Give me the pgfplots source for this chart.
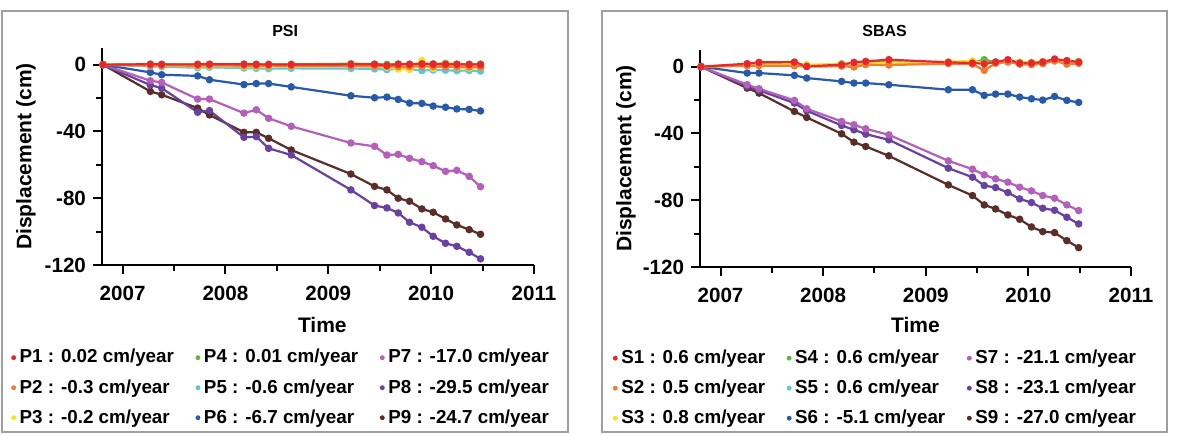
\documentclass[border=0pt]{standalone}
\usepackage{fontspec}
\setmainfont{Liberation Sans}
\usepackage{pgfplots}
\usepackage{pgfplotstable}
\pgfplotsset{compat=1.18}

\definecolor{c1}{RGB}{232,38,43}
\definecolor{c2}{RGB}{240,125,50}
\definecolor{c3}{RGB}{245,228,30}
\definecolor{c4}{RGB}{96,180,70}
\definecolor{c5}{RGB}{90,200,215}
\definecolor{c6}{RGB}{40,90,170}
\definecolor{c7}{RGB}{180,95,185}
\definecolor{c8}{RGB}{105,65,160}
\definecolor{c9}{RGB}{90,45,40}

\pgfplotstableread{
t        p1   p2   p3   p4   p5   p6    p7    p8     p9
2006.81  0.0  0.0  0.0  0.0  0.0  0.0   0.0   0.0    0.0
2007.27  0.3 -0.5 -0.3  0.2 -1.0 -4.6  -9.6  -12.2  -16.0
2007.38  0.2 -0.5 -0.5  0.1 -1.2 -6.0  -10.6 -14.0  -18.0
2007.73  0.2 -0.6 -1.0  0.2 -1.8 -6.7  -20.6 -28.5  -26.0
2007.845 0.3 -0.5 -0.8  0.1 -1.6 -9.0  -20.6 -27.5  -30.1
2008.18  0.3 -0.6 -1.0  0.3 -2.0 -11.9 -29.0 -43.5  -40.5
2008.30  0.2 -0.7 -1.2  0.2 -2.2 -11.3 -27.0 -43.1  -40.5
2008.42  0.2 -0.7 -1.0  0.1 -2.4 -11.3 -32.1 -50.1  -44.1
2008.64  0.1 -0.8 -1.0  0.2 -2.2 -13.3 -36.9 -54.1  -51.1
2009.22  0.2 -0.8 -0.8  0.6 -2.3 -18.6 -46.9 -75.0  -65.5
2009.45  0.3 -1.0 -1.0  0.3 -2.5 -19.8 -48.9 -84.4  -72.9
2009.57 -0.5 -1.0 -1.5  0.2 -3.0 -19.4 -54.1 -85.8  -75.0
2009.68  0.3 -1.2 -2.5  0.4 -2.4 -20.8 -53.7 -88.8  -80.0
2009.79  0.2 -1.2 -2.8  0.3 -2.6 -23.0 -56.1 -94.4  -81.8
2009.91  0.5 -1.1  2.5  0.6 -3.5 -23.2 -58.1 -97.4  -86.4
2010.02  0.3 -1.2 -2.2  0.5 -3.2 -24.8 -60.5 -102.8 -88.4
2010.14  0.3 -1.3  0.5  0.8 -3.3 -25.5 -63.9 -107.0 -92.4
2010.25  0.2 -1.3 -1.5  0.4 -3.6 -26.5 -63.3 -108.8 -96.0
2010.37  0.1 -1.4 -2.0  0.3 -3.5 -26.8 -66.9 -112.4 -98.8
2010.48  0.0 -1.5 -1.5  0.4 -3.8 -27.7 -73.1 -116.3 -101.6
}\psitab

\pgfplotstableread{
t        s1   s2   s3   s4   s5   s6    s7    s8    s9
2006.81  0.0  0.0  0.0  0.0  0.0  0.0   0.0   0.0   0.0
2007.26  1.8  0.5  1.0  1.2  0.8 -3.8  -10.8 -11.8 -12.8
2007.375 2.6  0.6  1.2  1.5  1.0 -3.8  -13.2 -14.2 -15.8
2007.72  2.8  0.5  1.5  2.0  1.5 -5.2  -20.2 -21.8 -26.8
2007.84  0.2  0.0  1.2  0.5  0.3 -6.8  -25.2 -26.4 -30.4
2008.18  1.2  0.3  1.5  1.8  1.0 -8.8  -32.8 -35.2 -40.2
2008.30  2.6 -0.2  1.8  1.5  1.5 -9.8  -34.8 -37.8 -45.2
2008.415 3.2  1.2  2.0  2.5  2.0 -9.8  -37.2 -40.4 -47.8
2008.64  4.2  1.0  2.5  3.0  2.5 -10.8 -40.8 -43.8 -53.4
2009.22  2.6  1.8  3.0  2.5  2.5 -13.8 -56.4 -60.8 -70.8
2009.455 2.2  1.5  3.5  2.5  2.8 -13.8 -61.4 -66.2 -77.2
2009.57  1.8 -2.2  2.0  4.2  2.5 -17.2 -64.8 -71.2 -82.8
2009.68  2.8  2.0  2.5  2.8  2.5 -16.4 -67.2 -72.4 -85.2
2009.80  4.2  2.8  3.5  3.5  3.0 -16.4 -69.2 -75.4 -88.8
2009.915 2.2  1.5  2.8  2.0  1.8 -18.2 -72.2 -79.2 -91.4
2010.03  2.2  1.2  2.5  2.5  2.0 -19.2 -74.4 -81.4 -96.0
2010.14  2.8  1.8  3.0  3.0  2.5 -20.0 -77.2 -84.8 -98.8
2010.255 4.6  3.5  3.8  4.0  3.5 -17.8 -78.8 -86.0 -99.4
2010.375 3.6  1.5  3.2  3.5  2.8 -20.2 -82.8 -90.2 -104.2
2010.49  2.8  2.0  3.0  3.0  2.5 -21.4 -86.2 -94.2 -108.4
}\sbastab

\pgfplotsset{
  panel/.style={
    scale only axis,
    width=216pt, height=108.5pt,
    xmin=2006.8, xmax=2011, ymin=-120, ymax=10,
    axis x line*=bottom, axis y line*=left,
    axis line style={line width=1pt, -},
    xtick={2007,2008,2009,2010,2011},
    ytick={0,-40,-80,-120},
    minor x tick num=1, minor y tick num=1,
    tick align=outside,
    major tick length=4.5pt, minor tick length=3pt,
    every tick/.style={black, line width=1pt},
    /pgf/number format/assume math mode=true,
    /pgf/number format/1000 sep={},
    ticklabel style={font=\bfseries\fontsize{10.3}{12}\selectfont},
    xticklabel style={yshift=-2.5pt},
    xlabel={Time}, ylabel={Displacement (cm)},
    label style={font=\bfseries\fontsize{10.5}{12}\selectfont},
    clip=false,
    legend columns=3,
    legend cell align=left,
    legend style={draw=none, fill=none, anchor=north west,
      font=\bfseries\fontsize{9.4}{11}\selectfont, row sep=2.7pt,
      /tikz/every even column/.append style={column sep=9pt}},
  },
  ser/.style={line width=1.1pt, mark=*, mark size=1.3pt, forget plot},
  leg/.style={only marks, mark=*, mark size=1pt, #1, mark options={fill=#1, draw=#1}},
}

\begin{document}
\begin{tikzpicture}
\path (0,0) rectangle (593.5pt,-217pt);
\draw[gray!75, line width=0.6pt] (1pt,-5.5pt) rectangle (284pt,-216pt);
\draw[gray!75, line width=0.6pt] (301pt,-5.5pt) rectangle (583.5pt,-216pt);
\node[font=\bfseries\fontsize{8}{9}\selectfont, anchor=center] at (142.6pt,-15.3pt) {PSI};
\node[font=\bfseries\fontsize{8}{9}\selectfont, anchor=center] at (442.3pt,-15.3pt) {SBAS};

\begin{axis}[panel, at={(51pt,-132.5pt)}, anchor=south west,
  xlabel style={at={(axis description cs:0.51,-0.276)}, anchor=center},
  ylabel style={at={(axis description cs:-0.176,0.5)}, anchor=center},
  legend style={at={(axis description cs:-0.224,-0.35)}}]
\addplot[ser, c9] table[x=t, y=p9] {\psitab};
\addplot[ser, c8] table[x=t, y=p8] {\psitab};
\addplot[ser, c7] table[x=t, y=p7] {\psitab};
\addplot[ser, c6] table[x=t, y=p6] {\psitab};
\addplot[ser, c5] table[x=t, y=p5] {\psitab};
\addplot[ser, c4] table[x=t, y=p4] {\psitab};
\addplot[ser, c3] table[x=t, y=p3] {\psitab};
\addplot[ser, c2] table[x=t, y=p2] {\psitab};
\addplot[ser, c1] table[x=t, y=p1] {\psitab};
\addlegendimage{leg=c1}\addlegendentry{P1 : 0.02 cm/year}
\addlegendimage{leg=c4}\addlegendentry{P4 : 0.01 cm/year}
\addlegendimage{leg=c7}\addlegendentry{P7 : -17.0 cm/year}
\addlegendimage{leg=c2}\addlegendentry{P2 : -0.3 cm/year}
\addlegendimage{leg=c5}\addlegendentry{P5 : -0.6 cm/year}
\addlegendimage{leg=c8}\addlegendentry{P8 : -29.5 cm/year}
\addlegendimage{leg=c3}\addlegendentry{P3 : -0.2 cm/year}
\addlegendimage{leg=c6}\addlegendentry{P6 : -6.7 cm/year}
\addlegendimage{leg=c9}\addlegendentry{P9 : -24.7 cm/year}
\end{axis}

\begin{axis}[panel, at={(350pt,-133.5pt)}, anchor=south west, width=215.5pt,
  xlabel style={at={(axis description cs:0.5,-0.268)}, anchor=center},
  ylabel style={at={(axis description cs:-0.172,0.5)}, anchor=center},
  legend style={at={(axis description cs:-0.216,-0.343)}}]
\addplot[ser, c9] table[x=t, y=s9] {\sbastab};
\addplot[ser, c8] table[x=t, y=s8] {\sbastab};
\addplot[ser, c7] table[x=t, y=s7] {\sbastab};
\addplot[ser, c6] table[x=t, y=s6] {\sbastab};
\addplot[ser, c5] table[x=t, y=s5] {\sbastab};
\addplot[ser, c4] table[x=t, y=s4] {\sbastab};
\addplot[ser, c3] table[x=t, y=s3] {\sbastab};
\addplot[ser, c2] table[x=t, y=s2] {\sbastab};
\addplot[ser, c1] table[x=t, y=s1] {\sbastab};
\addlegendimage{leg=c1}\addlegendentry{S1 : 0.6 cm/year}
\addlegendimage{leg=c4}\addlegendentry{S4 : 0.6 cm/year}
\addlegendimage{leg=c7}\addlegendentry{S7 : -21.1 cm/year}
\addlegendimage{leg=c2}\addlegendentry{S2 : 0.5 cm/year}
\addlegendimage{leg=c5}\addlegendentry{S5 : 0.6 cm/year}
\addlegendimage{leg=c8}\addlegendentry{S8 : -23.1 cm/year}
\addlegendimage{leg=c3}\addlegendentry{S3 : 0.8 cm/year}
\addlegendimage{leg=c6}\addlegendentry{S6 : -5.1 cm/year}
\addlegendimage{leg=c9}\addlegendentry{S9 : -27.0 cm/year}
\end{axis}
\end{tikzpicture}
\end{document}
